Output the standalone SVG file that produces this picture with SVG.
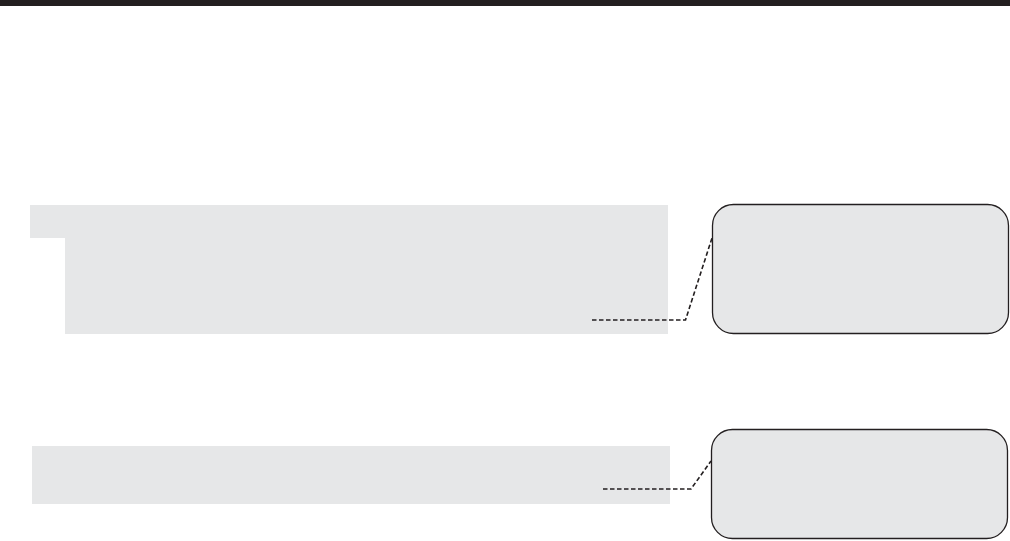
<svg xmlns="http://www.w3.org/2000/svg" width="1010" height="541" viewBox="0 0 1010 541">
<style>
.panel{fill:#e6e7e8;stroke:none}
.box{fill:#e6e7e8;stroke:#231f20;stroke-width:1.3}
.lead{fill:none;stroke:#231f20;stroke-width:1.6;stroke-dasharray:4.5 2.5}
</style>
<rect x="0" y="0" width="1010" height="541" fill="#ffffff"/>
<rect id="topbar" x="0" y="0" width="1010" height="6" fill="#231f20"/>
<g id="panel1"><path class="panel" d="M30 205 H668 V334 H65 V238 H30 Z"/></g>
<g id="panel2"><rect class="panel" x="32" y="446" width="638" height="58"/></g>
<g id="box1"><rect class="box" x="712.5" y="204.5" width="296" height="129" rx="21" ry="21"/></g>
<g id="box2"><rect class="box" x="711.5" y="429.5" width="296" height="109" rx="21" ry="21"/></g>
<g id="connectors">
<path class="lead" d="M592 320 H685.5 L712 238"/>
<path class="lead" d="M603 489 H691 L711 461"/>
</g>
</svg>
